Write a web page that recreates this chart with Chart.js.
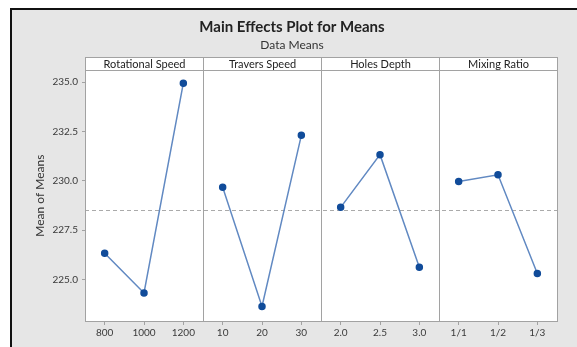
<!DOCTYPE html>
<html>
<head>
<meta charset="utf-8">
<script src="https://cdn.jsdelivr.net/npm/chart.js@4/dist/chart.umd.min.js"></script>
<style>
    html, body { margin: 0; padding: 0; background: #fff; }
    .frame {
        position: absolute; left: 10px; top: 8px;
        width: 567px; height: 339px; box-sizing: border-box;
        border-left: 2px solid #111; border-top: 2px solid #111;
        background: #e6e6e6;
    }
    #chart { position: absolute; left: 0; top: 0; }
</style>
</head>
<body>
<div class="frame"></div>
<canvas id="chart" width="577" height="347"></canvas>
<script>
'use strict'

// factors (panels) and their levels
const factors = ['Rotational Speed', 'Travers Speed', 'Holes Depth', 'Mixing Ratio']
const rotLevels = ['800', '1000', '1200']
const travLevels = ['10', '20', '30']
const depthLevels = ['2.0', '2.5', '3.0']
const mixLevels = ['1/1', '1/2', '1/3']

// means per level
const rotMeans = [226.33, 224.32, 234.95]
const travMeans = [229.68, 223.64, 232.31]
const depthMeans = [228.66, 231.33, 225.63]
const mixMeans = [229.97, 230.31, 225.31]

const yTicks = [225.0, 227.5, 230.0, 232.5, 235.0]
const yMin = 222.9
const yMax = 235.6

const levels = [rotLevels, travLevels, depthLevels, mixLevels]
const means = [rotMeans, travMeans, depthMeans, mixMeans]
const labels = levels.flat()
const allValues = means.flat()
const grandMean = allValues.reduce((a, b) => a + b, 0) / allValues.length

const FONT = 'Lato'
const GRAY = '#a2a2a2'

function panelData(idx) {
    const out = labels.map(() => null)
    means[idx].forEach((v, i) => { out[idx * 3 + i] = v })
    return out
}

const panels = {
    id: 'panels',
    beforeDatasetsDraw(chart) {
        const { ctx, chartArea: a, scales: { x, y } } = chart
        ctx.save()
        ctx.fillStyle = '#fff'
        ctx.fillRect(a.left, a.top, a.right - a.left, a.bottom - a.top)

        // reference line at the grand mean
        const ym = Math.round(y.getPixelForValue(grandMean)) + 0.5
        ctx.strokeStyle = '#aaaaaa'
        ctx.lineWidth = 1
        ctx.setLineDash([4, 3])
        ctx.beginPath()
        ctx.moveTo(a.left, ym)
        ctx.lineTo(a.right, ym)
        ctx.stroke()
        ctx.setLineDash([])

        // panel borders + strip headers
        const stripH = 13
        ctx.strokeStyle = GRAY
        factors.forEach((name, i) => {
            const l = Math.round(x.getPixelForValue(i * 3 - 0.5)) + 0.5
            const r = Math.round(x.getPixelForValue(i * 3 + 2.5)) + 0.5
            const t = Math.round(a.top) + 0.5
            const b = Math.round(a.bottom) + 0.5
            ctx.strokeRect(l, t, r - l, b - t)
            ctx.fillStyle = '#fff'
            ctx.fillRect(l, t - stripH, r - l, stripH)
            ctx.strokeRect(l, t - stripH, r - l, stripH)
            ctx.fillStyle = '#222'
            ctx.font = `11px ${FONT}`
            ctx.textAlign = 'center'
            ctx.textBaseline = 'middle'
            ctx.fillText(name, (l + r) / 2, t - stripH / 2)
        })
        ctx.restore()
    }
}

const datasets = factors.map((name, i) => ({
    label: name,
    data: panelData(i),
    borderColor: '#6189c2',
    borderWidth: 1.5,
    pointBackgroundColor: '#114c9a',
    pointBorderColor: '#114c9a',
    pointRadius: 3,
    spanGaps: false,
    tension: 0
}))

new Chart(document.getElementById('chart').getContext('2d'), {
    type: 'line',
    data: { labels: labels, datasets: datasets },
    plugins: [panels],
    options: {
        responsive: false,
        animation: false,
        layout: { padding: { left: 27, right: 20, top: 10, bottom: 6 } },
        plugins: {
            legend: { display: false },
            tooltip: { enabled: false },
            title: {
                display: true,
                text: 'Main Effects Plot for Means',
                color: '#222',
                font: { family: FONT, size: 15, weight: 'bold' },
                padding: { top: 8, bottom: 1 }
            },
            subtitle: {
                display: true,
                text: 'Data Means',
                color: '#333',
                font: { family: FONT, size: 12 },
                padding: { top: 1, bottom: 18 }
            }
        },
        scales: {
            x: {
                type: 'category',
                offset: true,
                grid: { offset: false, drawOnChartArea: false, tickLength: 4, color: GRAY },
                border: { display: false },
                ticks: {
                    autoSkip: false, maxRotation: 0, padding: 2,
                    color: '#3a3a3a', font: { family: FONT, size: 10 }
                },
                afterFit: s => { s.height = 20 }
            },
            y: {
                min: yMin,
                max: yMax,
                afterBuildTicks: s => { s.ticks = yTicks.map(v => ({ value: v })) },
                grid: { drawOnChartArea: false, tickLength: 3, color: GRAY },
                border: { display: false },
                ticks: {
                    padding: 4, color: '#3a3a3a',
                    font: { family: FONT, size: 10 },
                    callback: v => v.toFixed(1)
                },
                title: {
                    display: true,
                    text: 'Mean of Means',
                    color: '#333',
                    font: { family: FONT, size: 12 },
                    padding: { top: 6, bottom: 0 }
                },
                afterFit: s => { s.width = 58 }
            }
        }
    }
})
</script>
</body>
</html>
